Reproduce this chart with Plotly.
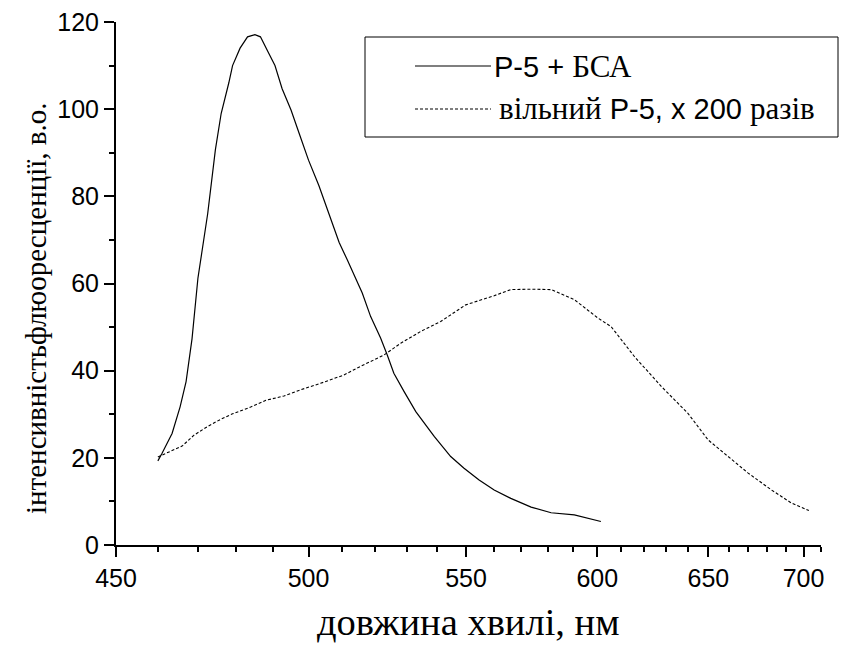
import plotly.graph_objects as go

# P-5 + BSA (solid)
wl_bsa = [460, 461, 463.5, 465.5, 467, 468.5, 470, 472.5, 474.5, 476, 478, 479, 481, 483, 485,
          486.5, 488.5, 490.5, 492.5, 495, 497.5, 500, 503, 506, 509, 511.4, 516, 518.6, 521.7,
          523.8, 525.9, 529.2, 533, 539.1, 544.7, 549.3, 554.6, 560, 566.1, 573.7, 581.4, 590.6,
          596.1, 601.5]
int_bsa = [19.3, 21, 25.6, 31.7, 37.5, 47.3, 61.2, 76, 90.7, 99, 106, 110, 114, 116.6, 117.1,
           116.6, 113.3, 110, 104.7, 99.8, 94, 88.3, 82.5, 76, 69.4, 65.5, 57.8, 52.4, 47.5,
           43.6, 39.4, 35.2, 30.6, 24.9, 20.3, 17.6, 14.9, 12.6, 10.7, 8.7, 7.4, 6.9,
           6.1, 5.4]

# free P-5, x200 (dashed)
wl_free = [460, 462.5, 466, 469, 472.5, 476, 479, 484, 488, 493, 497.7, 503.5, 510.4, 515.5,
           522.8, 528.1, 534.6, 541.3, 549.9, 560, 566, 573.7, 581.4, 590.6, 600.2, 605.8,
           615.9, 627.8, 640.2, 649.9, 659.8, 670, 682.4, 693.3, 703]
int_free = [20.2, 21.2, 22.7, 25.2, 27.2, 28.9, 30.1, 31.7, 33.2, 34.2, 35.6, 37.1, 39, 41,
            43.6, 46.3, 49, 51.3, 55.1, 57.2, 58.6, 58.7, 58.6, 56.3, 52.1, 50.1,
            43.2, 36.4, 30.2, 24.1, 20.3, 16.5, 12.6, 9.6, 7.9]

x_tick_nm = [450, 500, 550, 600, 650, 700]
x_minor_nm = [n for n in range(450, 711, 10) if n not in x_tick_nm]
y_ticks = [0, 20, 40, 60, 80, 100, 120]

SERIF = "'Liberation Serif', 'Times New Roman', serif"
SANS = "'Liberation Sans', Arial, sans-serif"

name_bsa = ('Р-5 + <span style="font-family:' + SERIF + ';font-size:31px">БСА</span>')
name_free = ('<span style="font-family:' + SERIF + ';font-size:31px">вільний</span> Р-5, х 200 '
             '<span style="font-family:' + SERIF + ';font-size:31px">разів</span>')


def to_axis(nm):
    # the wavelength axis is linear in reciprocal wavelength (energy scale)
    return 1e7 / nm


fig = go.Figure()
fig.add_trace(go.Scatter(x=[to_axis(v) for v in wl_bsa], y=int_bsa, mode='lines',
                         line=dict(color='black', width=1.2), name='Р-5 + БСА', showlegend=False))
fig.add_trace(go.Scatter(x=[to_axis(v) for v in wl_free], y=int_free, mode='lines',
                         line=dict(color='black', width=1.1, dash='3px,2px'),
                         name='вільний Р-5, х 200 разів', showlegend=False))

# plot-area edges as seen on screen (page body adds an 8px offset)
OFF = 8
L, R, T, B = 116, 821, 22, 545


def px(xp):
    return (xp - L) / (R - L)


def py(yp):
    return (B - yp) / (B - T)


ROW1, ROW2 = 66, 109
shapes = [
    dict(type='rect', xref='paper', yref='paper', x0=px(365), x1=px(838), y0=py(137), y1=py(37),
         line=dict(color='black', width=1), fillcolor='white', layer='above'),
    dict(type='line', xref='paper', yref='paper', x0=px(415), x1=px(491), y0=py(ROW1), y1=py(ROW1),
         line=dict(color='black', width=1.2), layer='above'),
    dict(type='line', xref='paper', yref='paper', x0=px(415), x1=px(491), y0=py(ROW2), y1=py(ROW2),
         line=dict(color='black', width=1.1, dash='3px,2px'), layer='above'),
]
annotations = [
    dict(xref='paper', yref='paper', x=px(492), y=py(ROW1), xanchor='left', yanchor='middle',
         text=name_bsa, showarrow=False, font=dict(family=SANS, size=29, color='black')),
    dict(xref='paper', yref='paper', x=px(497), y=py(ROW2), xanchor='left', yanchor='middle',
         text=name_free, showarrow=False, font=dict(family=SANS, size=29, color='black')),
    # axis titles
    dict(xref='paper', yref='paper', x=px(468), y=py(622), xanchor='center', yanchor='middle',
         text='довжина хвилі, нм', showarrow=False,
         font=dict(family=SERIF, size=38.5, color='black')),
    dict(xref='paper', yref='paper', x=px(36), y=py(309), xanchor='center', yanchor='middle',
         text='інтенсивністьфлюоресценції, в.о.', textangle=-90, showarrow=False,
         font=dict(family=SERIF, size=29, color='black')),
]

axis_font = dict(family=SANS, size=25, color='black')

fig.update_layout(
    width=858, height=646,
    margin=dict(l=L - OFF, r=858 - R + OFF, t=T - OFF, b=646 - B + OFF),
    paper_bgcolor='white', plot_bgcolor='white',
    shapes=shapes, annotations=annotations,
    xaxis=dict(
        range=[to_axis(450), to_axis(710)], automargin=False, ticklabeloverflow='allow',
        tickmode='array', tickvals=[to_axis(v) for v in x_tick_nm],
        ticktext=[str(v) for v in x_tick_nm],
        ticks='outside', ticklen=10, tickwidth=2, tickcolor='black',
        showline=True, linecolor='black', linewidth=2, showgrid=False, zeroline=False,
        tickfont=axis_font,
        minor=dict(tickmode='array', tickvals=[to_axis(v) for v in x_minor_nm],
                   ticks='outside', ticklen=5, tickwidth=1.5, tickcolor='black', showgrid=False),
    ),
    yaxis=dict(
        range=[0, 120], automargin=False, ticklabeloverflow='allow',
        tickmode='array', tickvals=y_ticks,
        ticks='outside', ticklen=10, tickwidth=2, tickcolor='black',
        showline=True, linecolor='black', linewidth=2, showgrid=False, zeroline=False,
        tickfont=axis_font,
        minor=dict(tickmode='linear', dtick=10, tick0=0,
                   ticks='outside', ticklen=5, tickwidth=1.5, tickcolor='black', showgrid=False),
    ),
)

fig.write_html("out.html")
